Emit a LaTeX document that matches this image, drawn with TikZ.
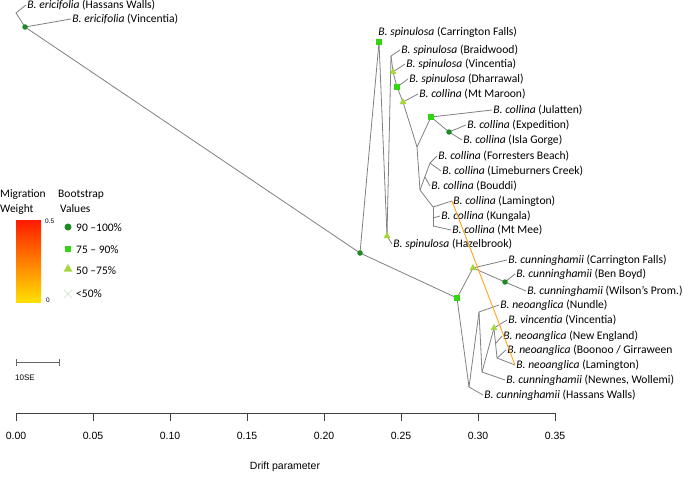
\documentclass[tikz,border=0pt]{standalone}
\usepackage{fontspec}
\setmainfont{Carlito}
\newfontfamily\axisfont{Liberation Sans}
\usetikzlibrary{shapes.geometric,shapes.misc,arrows.meta}

\definecolor{bsdark}{HTML}{1E8B22}
\definecolor{bsgreen}{HTML}{33D411}
\definecolor{bsyellow}{HTML}{A5D63C}
\definecolor{bslow}{HTML}{D6EAD6}
\definecolor{edgegray}{HTML}{808080}
\definecolor{migorange}{HTML}{FFA31A}
\definecolor{barred}{HTML}{FF1A00}
\definecolor{barorange}{HTML}{FF7A00}
\definecolor{baryellow}{HTML}{FFE000}

\newcommand{\taxon}[2]{\textit{B. #1} (#2)}

\begin{document}
\begin{tikzpicture}[x=1pt,y=-1pt,
    edge/.style={draw=edgegray,line width=0.8pt},
    lab/.style={anchor=west,inner sep=1.2pt,font=\fontsize{11.6}{13}\selectfont},
    leg/.style={anchor=west,inner sep=0pt,font=\fontsize{11.5}{13}\selectfont},
    axislab/.style={inner sep=0pt,font=\axisfont\fontsize{10.5}{12}\selectfont},
    tiny/.style={anchor=west,inner sep=0pt,font=\axisfont\fontsize{6.5}{7}\selectfont},
    bsa/.style={circle,fill=bsdark,inner sep=0pt,minimum size=5.5pt},
    bsb/.style={rectangle,fill=bsgreen,inner sep=0pt,minimum size=5.5pt},
    bsc/.style={regular polygon,regular polygon sides=3,fill=bsyellow,inner sep=0pt,minimum size=8pt},
    bsd/.style={cross out,draw=bslow,line width=1pt,inner sep=0pt,minimum size=7pt}]

  \useasboundingbox (0,0) rectangle (684,476);

  % tree points
  \coordinate (rb) at (16,13);
  \coordinate (eri) at (25,27);
  \coordinate (top) at (360,253);
  \coordinate (spC) at (379,42);
  \coordinate (spH) at (387,236);
  \coordinate (spQ) at (391,56);
  \coordinate (spV) at (393,72);
  \coordinate (spD) at (397,87);
  \coordinate (coMM) at (403,102);
  \coordinate (coJ) at (417,147);
  \coordinate (coJu) at (431,117);
  \coordinate (coEx) at (449,132);
  \coordinate (coK) at (420,190);
  \coordinate (coF) at (430,163);
  \coordinate (coB) at (425,177);
  \coordinate (coM) at (433,207);
  \coordinate (coKu) at (433,218);
  \coordinate (coN) at (433,226);
  \coordinate (cuN) at (457,298);
  \coordinate (cuT) at (473,268);
  \coordinate (cuBB) at (505,282);
  \coordinate (neA) at (469,387);
  \coordinate (neP) at (479,312);
  \coordinate (neQ) at (482,372);
  \coordinate (neT) at (494,328);
  \coordinate (neE) at (496,343);
  \coordinate (neL) at (497,358);

  % tip labels
  \node[lab] (lEH) at (26,5) {\taxon{ericifolia}{Hassans Walls}};
  \node[lab] (lEV) at (71,19) {\taxon{ericifolia}{Vincentia}};
  \node[lab] (lSC) at (377,32) {\taxon{spinulosa}{Carrington Falls}};
  \node[lab] (lSB) at (400,50) {\taxon{spinulosa}{Braidwood}};
  \node[lab] (lSV) at (405,64) {\taxon{spinulosa}{Vincentia}};
  \node[lab] (lSD) at (408,79) {\taxon{spinulosa}{Dharrawal}};
  \node[lab] (lCM) at (418,94) {\taxon{collina}{Mt Maroon}};
  \node[lab] (lCJ) at (492,110) {\taxon{collina}{Julatten}};
  \node[lab] (lCE) at (466,125) {\taxon{collina}{Expedition}};
  \node[lab] (lCI) at (462,140) {\taxon{collina}{Isla Gorge}};
  \node[lab] (lCF) at (437,156) {\taxon{collina}{Forresters Beach}};
  \node[lab] (lCL) at (441,171) {\taxon{collina}{Limeburners Creek}};
  \node[lab] (lCB) at (430,186) {\taxon{collina}{Bouddi}};
  \node[lab] (lCLa) at (452,201) {\taxon{collina}{Lamington}};
  \node[lab] (lCK) at (440,216) {\taxon{collina}{Kungala}};
  \node[lab] (lCMM) at (451,230) {\taxon{collina}{Mt Mee}};
  \node[lab] (lSH) at (392,244) {\taxon{spinulosa}{Hazelbrook}};
  \node[lab] (lUC) at (507,260) {\taxon{cunninghamii}{Carrington Falls}};
  \node[lab] (lUB) at (515,274) {\taxon{cunninghamii}{Ben Boyd}};
  \node[lab] (lUW) at (526,291) {\taxon{cunninghamii}{Wilson’s Prom.}};
  \node[lab] (lNN) at (499,305) {\taxon{neoanglica}{Nundle}};
  \node[lab] (lVV) at (507,320) {\taxon{vincentia}{Vincentia}};
  \node[lab] (lNE) at (502,336) {\taxon{neoanglica}{New England}};
  \node[lab] (lNB) at (506,350) {\textit{B. neoanglica} (Boonoo / Girraween};
  \node[lab] (lNL) at (515,365) {\taxon{neoanglica}{Lamington}};
  \node[lab] (lUN) at (505,380) {\taxon{cunninghamii}{Newnes, Wollemi}};
  \node[lab] (lUH) at (483,395) {\taxon{cunninghamii}{Hassans Walls}};

  % branches
  \draw[edge] (lEH.west) -- (rb) -- (eri);
  \draw[edge] (eri) -- (lEV.west);
  \draw[edge] (eri) -- (top);
  \draw[edge] (top) -- (spC);
  \draw[edge] (spC) -- (spH);
  \draw[edge] (spH) -- (lSH.west);
  \draw[edge] (spH) -- (spQ);
  \draw[edge] (spQ) -- (lSB.west);
  \draw[edge] (spQ) -- (spV) -- (spD) -- (coMM) -- (coJ) -- (coK) -- (coM);
  \draw[edge] (spV) -- (lSV.west);
  \draw[edge] (spD) -- (lSD.west);
  \draw[edge] (coMM) -- (lCM.west);
  \draw[edge] (coJ) -- (coJu);
  \draw[edge] (coJu) -- (lCJ.west);
  \draw[edge] (coJu) -- (coEx);
  \draw[edge] (coEx) -- (lCE.west);
  \draw[edge] (coEx) -- (lCI.west);
  \draw[edge] (coK) -- (coF);
  \draw[edge] (coF) -- (lCF.west);
  \draw[edge] (coF) -- (lCL.west);
  \draw[edge] (coB) -- (lCB.west);
  \draw[edge] (coM) -- (coN);
  \draw[edge] (coM) -- (lCLa.west);
  \draw[edge] (coKu) -- (lCK.west);
  \draw[edge] (coN) -- (lCMM.west);
  \draw[edge] (top) -- (cuN);
  \draw[edge] (cuN) -- (cuT);
  \draw[edge] (cuT) -- (lUC.west);
  \draw[edge] (cuT) -- (cuBB);
  \draw[edge] (cuBB) -- (lUB.west);
  \draw[edge] (cuBB) -- (lUW.west);
  \draw[edge] (cuN) -- (neA);
  \draw[edge] (neA) -- (lUH.west);
  \draw[edge] (neA) -- (neP);
  \draw[edge] (neP) -- (lNN.west);
  \draw[edge] (neP) -- (neQ);
  \draw[edge] (neQ) -- (lUN.west);
  \draw[edge] (neQ) -- (neT);
  \draw[edge] (neT) -- (lVV.west);
  \draw[edge] (neT) -- (neL);
  \draw[edge] (neE) -- (lNE.west);
  \draw[edge] (neL) -- (lNB.west);
  \draw[edge] (neL) -- (lNL.west);

  % migration edge
  \draw[migorange,line width=0.9pt,-{Stealth[length=3pt,width=3pt]}] (lNL.west) -- (lCLa.west);

  % bootstrap marks
  \node[bsa] (mEri) at (eri) {};
  \node[bsa] (mTop) at (top) {};
  \node[bsb] (mSpC) at (spC) {};
  \node[bsc] (mSpH) at (spH) {};
  \node[bsc] (mSpV) at (spV) {};
  \node[bsb] (mSpD) at (spD) {};
  \node[bsc] (mCoMM) at (coMM) {};
  \node[bsb] (mCoJu) at (coJu) {};
  \node[bsa] (mCoEx) at (coEx) {};
  \node[bsb] (mCuN) at (cuN) {};
  \node[bsc] (mCuT) at (cuT) {};
  \node[bsa] (mCuBB) at (cuBB) {};
  \node[bsc] (mNeT) at (neT) {};

  % legend
  \node[leg] (migT) at (0,195) {Migration};
  \node[leg] (migW) at (0,209) {Weight};
  \node[leg] (bootT) at (58,195) {Bootstrap};
  \node[leg] (bootV) at (60,209) {Values};
  \shade[top color=barred,middle color=barorange,bottom color=baryellow] (16,220) rectangle (41,302);
  \node[tiny] (barHi) at (45,221) {0.5};
  \node[tiny] (barLo) at (46,300) {0};
  \node[bsa,minimum size=7pt] (kA) at (68,227) {};
  \node[bsb,minimum size=6.5pt] (kB) at (68,249) {};
  \node[bsc,minimum size=10pt] (kC) at (68,269) {};
  \node[bsd] (kD) at (68,294) {};
  \node[leg] (kAt) at (76,228) {90 –100\%};
  \node[leg] (kBt) at (76,250) {75 – 90\%};
  \node[leg] (kCt) at (76,271) {50 –75\%};
  \node[leg] (kDt) at (76,294) {<50\%};

  % scale bar
  \coordinate (sbL) at (16,362);
  \coordinate (sbR) at (59,362);
  \draw[edgegray!80!black,line width=0.8pt] (sbL) -- (sbR);
  \draw[edgegray!80!black,line width=0.8pt] ([yshift=-3.5pt]sbL) -- ([yshift=3.5pt]sbL);
  \draw[edgegray!80!black,line width=0.8pt] ([yshift=-3.5pt]sbR) -- ([yshift=3.5pt]sbR);
  \node[tiny,font=\axisfont\fontsize{8}{9}\selectfont] (sbT) at (15,378) {10SE};

  % drift axis
  \coordinate (axL) at (16,413);
  \coordinate (axR) at (555,413);
  \draw[black!75,line width=0.8pt] (axL) -- (axR);
  \foreach \v [count=\i from 0] in {0.00,0.05,0.10,0.15,0.20,0.25,0.30,0.35} {
    \draw[black!75,line width=0.8pt] (16+77*\i,413) -- (16+77*\i,421);
    \node[axislab] (tk\i) at (16+77*\i,436) {\v};
  }
  \node[axislab] (xlab) at (285,467) {Drift parameter};

\end{tikzpicture}
\end{document}
